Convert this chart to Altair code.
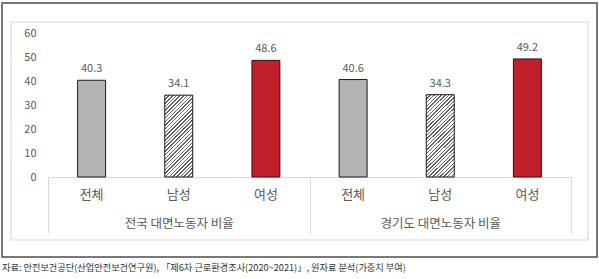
import altair as alt
import pandas as pd

groups = ["전국 대면노동자 비율", "경기도 대면노동자 비율"]
categories = ["전체", "남성", "여성"]
values_national = [40.3, 34.1, 48.6]
values_gyeonggi = [40.6, 34.3, 49.2]
y_ticks = [0, 10, 20, 30, 40, 50, 60]
caption_text = "자료: 안전보건공단(산업안전보건연구원), 「제6차 근로환경조사(2020~2021)」, 원자료 분석(가중치 부여)"

rows = []
for g, vals in zip(groups, [values_national, values_gyeonggi]):
    for c, v in zip(categories, vals):
        rows.append({"group": g, "cat": c, "value": v})
df = pd.DataFrame(rows)

FONT = "Noto Sans CJK KR"
TXT = "#595959"
W, H = 523, 144

# hatch pattern as a striped linear gradient (/// lines)
N = 80
frac = 0.4
stops = []
for i in range(N):
    a = i / N
    b = (i + 1 - frac) / N
    c = (i + 1) / N
    stops.append(alt.GradientStop(offset=round(a, 5), color="#ffffff"))
    stops.append(alt.GradientStop(offset=round(b, 5), color="#ffffff"))
    stops.append(alt.GradientStop(offset=round(b, 5), color="#666666"))
    stops.append(alt.GradientStop(offset=round(c, 5), color="#666666"))
hatch = alt.LinearGradient(gradient="linear", stops=stops, x1=0, y1=0, x2=0.41, y2=1.2)

x_enc = alt.X(
    "group:N",
    sort=groups,
    scale=alt.Scale(paddingInner=0, paddingOuter=0),
    axis=alt.Axis(
        title=None,
        domain=True,
        domainColor="#d9d9d9",
        domainWidth=1,
        ticks=True,
        tickBand="extent",
        tickSize=56,
        tickColor="#d9d9d9",
        tickWidth=1,
        labelAngle=0,
        labelPadding=-10,
        labelFont=FONT,
        labelFontSize=12.5,
        labelColor=TXT,
        labelBaseline="middle",
        labelAlign="center",
    ),
)
xoff_enc = alt.XOffset(
    "cat:N", sort=categories, scale=alt.Scale(paddingInner=0.679, paddingOuter=0.34)
)
y_enc = alt.Y(
    "value:Q",
    scale=alt.Scale(domain=[0, 60], nice=False),
    axis=alt.Axis(
        title=None,
        values=y_ticks,
        domain=False,
        ticks=False,
        grid=False,
        labelPadding=12,
        labelFont=FONT,
        labelFontSize=11,
        labelColor=TXT,
    ),
)

base = alt.Chart(df)

bar_gray = base.transform_filter(alt.datum.cat == categories[0]).mark_bar(
    fill="#b3b3b3", stroke="#1a1a1a", strokeWidth=1
).encode(x=x_enc, xOffset=xoff_enc, y=y_enc)
bar_hatch = base.transform_filter(alt.datum.cat == categories[1]).mark_bar(
    fill=hatch, stroke="#1a1a1a", strokeWidth=1
).encode(x=x_enc, xOffset=xoff_enc, y=y_enc)
bar_red = base.transform_filter(alt.datum.cat == categories[2]).mark_bar(
    fill="#c0202b", stroke="#3a1010", strokeWidth=1
).encode(x=x_enc, xOffset=xoff_enc, y=y_enc)

value_labels = base.mark_text(
    font=FONT, fontSize=11, color=TXT, baseline="bottom", dy=-6
).encode(x=x_enc, xOffset=xoff_enc, y=y_enc, text=alt.Text("value:Q", format=".1f"))

cat_labels = base.mark_text(
    font=FONT, fontSize=13, color=TXT, baseline="middle"
).encode(x=x_enc, xOffset=xoff_enc, y=alt.value(162), text="cat:N")

cap_df = pd.DataFrame({"t": [caption_text]})
caption = alt.Chart(cap_df).mark_text(
    font=FONT, fontSize=9.2, color="#333333", align="left", baseline="middle"
).encode(x=alt.value(-46), y=alt.value(235), text="t:N")

frame_df = pd.DataFrame({"k": [0]})
inner_frame = alt.Chart(frame_df).mark_rect(
    fill=None, fillOpacity=0, stroke="#d9d9d9", strokeWidth=1.2
).encode(x=alt.value(-37), x2=alt.value(540), y=alt.value(-11), y2=alt.value(207))
outer_frame = alt.Chart(frame_df).mark_rect(
    fill=None, fillOpacity=0, stroke="#4d4d4d", strokeWidth=1.5
).encode(x=alt.value(-46), x2=alt.value(549), y=alt.value(-30), y2=alt.value(224))

chart = (
    alt.layer(outer_frame, inner_frame, bar_gray, bar_hatch, bar_red, value_labels, cat_labels, caption)
    .properties(
        width=W,
        height=H,
        autosize=alt.AutoSizeParams(type="none"),
        padding={"left": 48, "top": 33, "right": 28, "bottom": 102},
        background="white",
    )
    .configure_view(stroke=None)
)

chart.save("out.html", embed_options={"renderer": "svg", "actions": False})
